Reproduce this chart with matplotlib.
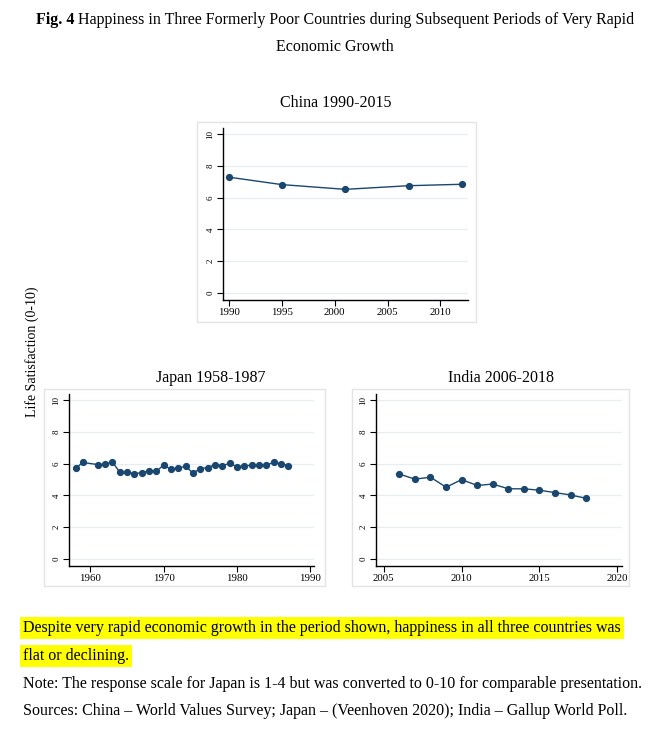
import matplotlib
matplotlib.use("Agg")
import matplotlib.pyplot as plt
from matplotlib.patches import Rectangle

plt.rcParams['font.family'] = ['Liberation Serif', 'DejaVu Serif']

# China (World Values Survey)
china_years = [1990, 1995, 2001, 2007, 2012]
china_ls = [7.30, 6.83, 6.53, 6.76, 6.85]

# Japan (Veenhoven 2020), 1960 missing
japan_years = [1958, 1959, 1961, 1962, 1963, 1964, 1965, 1966, 1967, 1968,
               1969, 1970, 1971, 1972, 1973, 1974, 1975, 1976, 1977, 1978,
               1979, 1980, 1981, 1982, 1983, 1984, 1985, 1986, 1987]
japan_ls = [5.72, 6.08, 5.95, 5.97, 6.12, 5.48, 5.45, 5.38, 5.43, 5.55,
            5.52, 5.92, 5.65, 5.72, 5.85, 5.40, 5.70, 5.75, 5.95, 5.88,
            6.02, 5.82, 5.85, 5.92, 5.90, 5.90, 6.10, 6.00, 5.88]

# India (Gallup World Poll)
india_years = list(range(2006, 2019))
india_ls = [5.35, 5.03, 5.15, 4.52, 5.00, 4.63, 4.72, 4.42, 4.42, 4.33,
            4.18, 4.03, 3.82]

W, H = 670, 733
fig = plt.figure(figsize=(W / 100, H / 100), dpi=100)
NAVY = "#1a476f"
GRID = "#e6eef0"
BOX = "#e4e4e4"
FS = 11.5


def fx(x):
    return x / W


def fy(y):
    return 1 - y / H


def box(x0, y0, x1, y1):
    fig.patches.append(Rectangle((fx(x0), fy(y1)), fx(x1) - fx(x0), fy(y0) - fy(y1),
                                 transform=fig.transFigure, fill=False,
                                 edgecolor=BOX, linewidth=1))


def panel(rect, years, vals, title, title_xy, xlim, xticks):
    l, t, r, b = rect
    ax = fig.add_axes([fx(l), fy(b), fx(r) - fx(l), fy(t) - fy(b)])
    ax.plot(years, vals, color=NAVY, marker="o", markersize=4.2, linewidth=1.0, zorder=3)
    ax.set_xlim(*xlim)
    ax.set_ylim(-0.45, 10.4)
    ax.set_yticks([0, 2, 4, 6, 8, 10])
    ax.set_xticks(xticks)
    ax.yaxis.grid(True, color=GRID, linewidth=0.9)
    ax.set_axisbelow(True)
    for s in ["top", "right"]:
        ax.spines[s].set_visible(False)
    for s in ["left", "bottom"]:
        ax.spines[s].set_linewidth(1.0)
    ax.tick_params(axis="y", labelsize=6.5, rotation=90, length=4, width=0.8, pad=2)
    ax.tick_params(axis="x", labelsize=7.8, length=4, width=0.8, pad=2)
    for lab in ax.get_yticklabels():
        lab.set_verticalalignment("center")
    fig.text(fx(title_xy[0]), fy(title_xy[1]), title, ha="center", va="center", fontsize=FS)
    return ax


# panel frames
box(197, 122, 476, 322)
box(44, 389, 325, 586)
box(352, 389, 629, 586)

panel((223, 128, 468, 300), china_years, china_ls, "China 1990-2015", (336, 103),
      (1989.45, 2012.6), [1990, 1995, 2000, 2005, 2010])
panel((69, 394, 314, 566), japan_years, japan_ls, "Japan 1958-1987", (211, 378),
      (1957.1, 1990.5), [1960, 1970, 1980, 1990])
panel((376, 394, 622, 566), india_years, india_ls, "India 2006-2018", (501, 378),
      (2004.5, 2020.3), [2005, 2010, 2015, 2020])

fig.text(fx(32), fy(352), "Life Satisfaction (0-10)", rotation=90,
         ha="center", va="center", fontsize=10)

# figure caption: bold "Fig. 4" followed by regular text, centred together
renderer = fig.canvas.get_renderer()
t_bold = fig.text(0, fy(20), "Fig. 4 ", ha="left", va="center", fontsize=FS, fontweight="bold")
t_rest = fig.text(0, fy(20), "Happiness in Three Formerly Poor Countries during Subsequent Periods of Very Rapid",
                  ha="left", va="center", fontsize=FS)
wb = t_bold.get_window_extent(renderer).width
wr = t_rest.get_window_extent(renderer).width
x0 = (W - wb - wr) / 2
t_bold.set_x(fx(x0))
t_rest.set_x(fx(x0 + wb))
fig.text(0.5, fy(47), "Economic Growth", ha="center", va="center", fontsize=FS)

hl = dict(boxstyle="square,pad=0.2", facecolor="#ffff00", edgecolor="none")
fig.text(fx(23), fy(628), "Despite very rapid economic growth in the period shown, happiness in all three countries was",
         ha="left", va="center", fontsize=FS, bbox=hl)
fig.text(fx(23), fy(656), "flat or declining.", ha="left", va="center", fontsize=FS, bbox=hl)
fig.text(fx(23), fy(684), "Note: The response scale for Japan is 1-4 but was converted to 0-10 for comparable presentation.",
         ha="left", va="center", fontsize=FS)
fig.text(fx(23), fy(711), "Sources: China \u2013 World Values Survey; Japan \u2013 (Veenhoven 2020); India \u2013 Gallup World Poll.",
         ha="left", va="center", fontsize=FS)

fig.savefig("out.png", dpi=100)
